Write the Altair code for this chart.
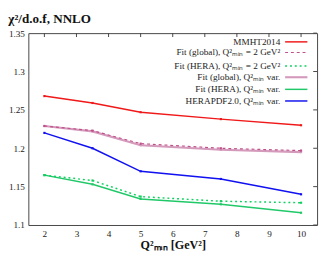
import altair as alt
import pandas as pd

# ---- data ----
q2 = [2, 3.5, 5, 7.5, 10]
mmht2014 = [1.268, 1.259, 1.247, 1.238, 1.230]
fit_global_fixed = [1.229, 1.223, 1.206, 1.200, 1.197]
fit_hera_fixed = [1.165, 1.158, 1.137, 1.131, 1.129]
fit_global_var = [1.229, 1.222, 1.204, 1.198, 1.195]
fit_hera_var = [1.165, 1.153, 1.134, 1.127, 1.116]
herapdf20_var = [1.220, 1.200, 1.170, 1.160, 1.140]

x_ticks = [2, 3, 4, 5, 6, 7, 8, 9, 10]
y_ticks = [1.1, 1.15, 1.2, 1.25, 1.3, 1.35]
x_domain = [1.5, 10.5]
y_domain = [1.1, 1.35]

series_labels = [
    "MMHT2014",
    "Fit (global), Q²ₘᵢₙ = 2 GeV²",
    "Fit (HERA), Q²ₘᵢₙ = 2 GeV²",
    "Fit (global), Q²ₘᵢₙ var.",
    "Fit (HERA), Q²ₘᵢₙ var.",
    "HERAPDF2.0, Q²ₘᵢₙ var.",
]
series_values = [mmht2014, fit_global_fixed, fit_hera_fixed,
                 fit_global_var, fit_hera_var, herapdf20_var]

# styles (kept apart from the data)
styles = [
    dict(color="#f01818", width=1.5, dash=None),
    dict(color="#c0508a", width=1.2, dash=[3, 3]),
    dict(color="#10d060", width=1.5, dash=[2, 3]),
    dict(color="#d49abb", width=2.2, dash=None),
    dict(color="#20c868", width=1.5, dash=None),
    dict(color="#1010f0", width=1.5, dash=None),
]
draw_order = [3, 1, 4, 2, 5, 0]

W, H = 298, 198
FONT = "Liberation Serif"

xs = alt.Scale(domain=x_domain, nice=False, zero=False)
ys = alt.Scale(domain=y_domain, nice=False, zero=False)
x_axis = alt.Axis(values=x_ticks, tickCount=len(x_ticks), grid=False,
                  domain=False, ticks=False, labelPadding=4,
                  labelOverlap=False, labelFlush=False,
                  titleFontWeight="bold", titleFontSize=12.5, titlePadding=1)
y_axis = alt.Axis(values=y_ticks, tickCount=len(y_ticks), grid=False,
                  domain=False, ticks=False, format=".2~f", labelPadding=4,
                  labelOverlap=False, labelFlush=False)
X_TITLE = "Q²ₘᵢₙ [GeV²]"


def xe(field):
    return alt.X(field, scale=xs, axis=x_axis, title=X_TITLE)


def ye(field):
    return alt.Y(field, scale=ys, axis=y_axis, title=None)


layers = []
for i in draw_order:
    df = pd.DataFrame({"q2": q2, "chi2": series_values[i]})
    st = styles[i]
    mk = dict(color=st["color"], strokeWidth=st["width"])
    if st["dash"]:
        mk["strokeDash"] = st["dash"]
    line = alt.Chart(df).mark_line(**mk).encode(x=xe("q2:Q"), y=ye("chi2:Q"))
    pts = alt.Chart(df).mark_point(shape="square", filled=True, size=5,
                                   color=st["color"], opacity=1).encode(
        x=xe("q2:Q"), y=ye("chi2:Q"))
    layers += [line, pts]

# inward mirror ticks (top and right), placed in data units
dy = (y_domain[1] - y_domain[0]) * 4 / H
dx = (x_domain[1] - x_domain[0]) * 4 / W
xt = pd.DataFrame({"t": x_ticks, "top": [y_domain[1]] * len(x_ticks),
                   "top2": [y_domain[1] - dy] * len(x_ticks)})
yt = pd.DataFrame({"t": y_ticks, "r": [x_domain[1]] * len(y_ticks),
                   "r2": [x_domain[1] - dx] * len(y_ticks)})
top_ticks = alt.Chart(xt).mark_rule(color="#444", strokeWidth=1).encode(
    x=xe("t:Q"), y=ye("top:Q"), y2="top2:Q")
right_ticks = alt.Chart(yt).mark_rule(color="#444", strokeWidth=1).encode(
    y=ye("t:Q"), x=xe("r:Q"), x2="r2:Q")
layers += [top_ticks, right_ticks]

# manual legend (labels right-aligned, sample line on the right)
leg_rows = [9, 20, 34, 45.5, 58, 70]
for i, lab in enumerate(series_labels):
    st = styles[i]
    yv = leg_rows[i]
    txt = alt.Chart(pd.DataFrame({"a": [0]})).mark_text(
        align="right", baseline="middle", font=FONT, fontSize=9.5,
        color="#222").encode(x=alt.value(W - 38), y=alt.value(yv),
                            text=alt.value(lab))
    mk = dict(color=st["color"], strokeWidth=st["width"])
    if st["dash"]:
        mk["strokeDash"] = st["dash"]
    sample = alt.Chart(pd.DataFrame({"a": [0]})).mark_rule(**mk).encode(
        x=alt.value(W - 33), x2=alt.value(W - 10), y=alt.value(yv))
    layers += [txt, sample]

chart = alt.layer(*layers).properties(
    width=W, height=H,
    padding={"left": 0, "top": 0, "right": 2, "bottom": 0},
    title=alt.Title("χ²/d.o.f, NNLO", anchor="start", font=FONT,
                    fontSize=13.5, fontWeight="bold", offset=3, color="#111"),
).configure_view(stroke="#444", strokeWidth=1).configure_axis(
    labelFont=FONT, titleFont=FONT, labelFontSize=9.5, labelColor="#222",
    titleColor="#111", labelOverlap=False)

chart.save("out.html", embed_options={"renderer": "svg", "actions": False})
